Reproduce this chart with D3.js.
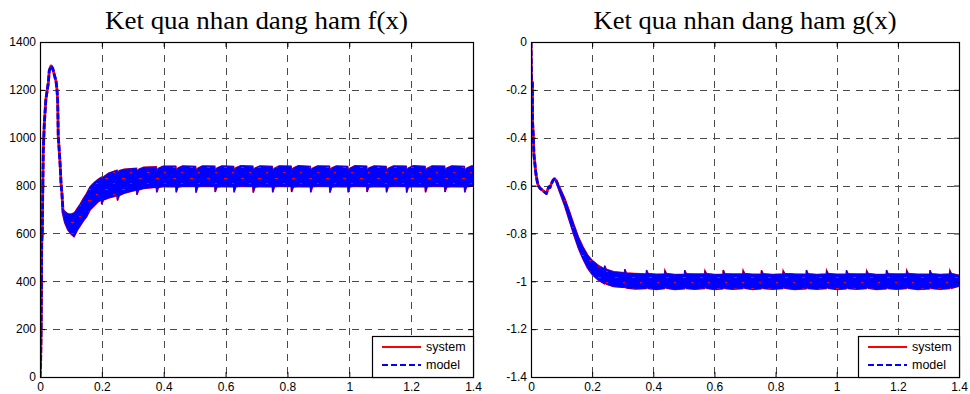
<!DOCTYPE html>
<html>
<head>
<meta charset="utf-8">
<script src="https://cdn.jsdelivr.net/npm/d3@7/dist/d3.min.js"></script>
<style>
  body { margin: 0; background: #fff; }
  svg text { font-family: "Liberation Sans", Arial, sans-serif; }
  .title { font-family: "Liberation Serif", "Times New Roman", serif; font-size: 25px; }
</style>
</head>
<body>
<div id="chart"></div>
<script>
// -------------------------------------------------------------------------
// Data

const xTicks = [0, 0.2, 0.4, 0.6, 0.8, 1, 1.2, 1.4];
const fTicks = [0, 200, 400, 600, 800, 1000, 1200, 1400];
const gTicks = [0, -0.2, -0.4, -0.6, -0.8, -1, -1.2, -1.4];
const seriesNames = ['system', 'model'];

// f(x): single trace at start
const fLineT = [0, 0.002, 0.004, 0.0055, 0.0075, 0.0087, 0.0107, 0.014, 0.019, 0.027, 0.030, 0.0355,
  0.041, 0.046, 0.052, 0.055, 0.057, 0.058, 0.059, 0.062, 0.065, 0.068, 0.071, 0.074];
const fLineV = [0, 60, 230, 560, 610, 760, 950, 1060, 1160, 1230, 1280, 1300,
  1290, 1265, 1235, 1200, 1160, 1090, 1005, 950, 890, 810, 765, 700];

// f(x): oscillation band (upper / lower envelope)
const fBandT = [0.072, 0.080, 0.090, 0.100, 0.110, 0.115, 0.120, 0.130, 0.140, 0.150, 0.162, 0.175, 0.188,
  0.198, 0.1995, 0.205, 0.222,
  0.249, 0.2505, 0.256, 0.272,
  0.312, 0.3135, 0.319, 0.335,
  0.376, 0.3775, 0.383, 0.398,
  0.439, 0.4405, 0.446, 0.461,
  0.503, 0.5045, 0.510, 0.525,
  0.565, 0.5665, 0.572, 0.588,
  0.626, 0.6275, 0.633, 0.649,
  0.688, 0.6895, 0.695, 0.711,
  0.751, 0.7525, 0.758, 0.773,
  0.812, 0.8135, 0.819, 0.835,
  0.874, 0.8755, 0.881, 0.897,
  0.936, 0.9375, 0.943, 0.958,
  0.995, 0.9965, 1.002, 1.018,
  1.056, 1.0575, 1.063, 1.080,
  1.119, 1.1205, 1.126, 1.143,
  1.184, 1.1855, 1.191, 1.207,
  1.245, 1.2465, 1.252, 1.268,
  1.308, 1.3095, 1.315, 1.331,
  1.372, 1.3735, 1.379, 1.395, 1.400];
const fBandHi = [705, 692, 682, 680, 685, 693, 703, 722, 745, 765, 795, 812, 826,
  834, 822, 836, 852,
  864, 850, 862, 868,
  872, 858, 868, 876,
  878, 862, 872, 881,
  881, 863, 873, 882,
  880, 862, 872, 882,
  881, 862, 873, 882,
  880, 862, 874, 883,
  881, 863, 873, 882,
  880, 861, 872, 882,
  881, 862, 873, 883,
  880, 862, 872, 882,
  881, 863, 873, 882,
  880, 862, 872, 883,
  881, 862, 873, 882,
  880, 861, 872, 882,
  881, 862, 873, 883,
  880, 862, 872, 882,
  881, 863, 873, 882,
  880, 862, 872, 882, 882];
const fBandLo = [690, 645, 615, 598, 586, 598, 612, 632, 652, 668, 698, 715, 732,
  740, 722, 740, 748,
  758, 738, 758, 768,
  782, 762, 782, 788,
  793, 772, 792, 796,
  795, 772, 794, 796,
  796, 771, 795, 797,
  796, 773, 794, 796,
  795, 772, 795, 797,
  796, 771, 794, 796,
  795, 772, 795, 797,
  796, 773, 794, 796,
  795, 772, 795, 797,
  796, 771, 794, 796,
  795, 772, 795, 797,
  796, 773, 794, 796,
  795, 772, 795, 797,
  796, 771, 794, 796,
  795, 772, 795, 797,
  796, 773, 794, 796,
  795, 772, 795, 797, 800];

// g(x): single trace at start
const gLineT = [0, 0.0015, 0.003, 0.0045, 0.005, 0.0075, 0.0095, 0.012, 0.016, 0.020, 0.023, 0.030,
  0.040, 0.050, 0.054, 0.058, 0.062, 0.066, 0.072, 0.077, 0.082, 0.088];
const gLineV = [0, -0.16, -0.165, -0.17, -0.33, -0.39, -0.47, -0.50, -0.55, -0.58, -0.598, -0.612,
  -0.622, -0.633, -0.620, -0.606, -0.608, -0.594, -0.578, -0.572, -0.578, -0.598];

// g(x): oscillation band
const gBandT = [0.085, 0.095, 0.110, 0.125, 0.140, 0.155, 0.170, 0.185, 0.200, 0.220,
  0.240, 0.241, 0.246, 0.270,
  0.306, 0.307, 0.312, 0.340,
  0.377, 0.378, 0.383, 0.410,
  0.437, 0.438, 0.443, 0.470,
  0.502, 0.503, 0.508, 0.535,
  0.568, 0.569, 0.574, 0.600,
  0.628, 0.629, 0.634, 0.660,
  0.693, 0.694, 0.699, 0.725,
  0.753, 0.754, 0.759, 0.790,
  0.824, 0.825, 0.830, 0.862,
  0.900, 0.901, 0.906, 0.935,
  0.966, 0.967, 0.972, 1.000,
  1.031, 1.032, 1.037, 1.065,
  1.097, 1.098, 1.103, 1.130,
  1.162, 1.163, 1.168, 1.195,
  1.228, 1.229, 1.234, 1.265,
  1.304, 1.305, 1.310, 1.338,
  1.369, 1.370, 1.375, 1.400];
const gBandHi = [-0.585, -0.610, -0.652, -0.705, -0.762, -0.815, -0.856, -0.890, -0.913, -0.934,
  -0.948, -0.935, -0.950, -0.960,
  -0.965, -0.950, -0.966, -0.968,
  -0.970, -0.953, -0.968, -0.971,
  -0.970, -0.955, -0.968, -0.972,
  -0.971, -0.954, -0.969, -0.970,
  -0.970, -0.956, -0.968, -0.972,
  -0.971, -0.953, -0.969, -0.970,
  -0.970, -0.955, -0.968, -0.971,
  -0.971, -0.954, -0.969, -0.972,
  -0.970, -0.956, -0.968, -0.970,
  -0.971, -0.953, -0.969, -0.972,
  -0.970, -0.955, -0.968, -0.971,
  -0.971, -0.954, -0.969, -0.970,
  -0.970, -0.956, -0.968, -0.972,
  -0.971, -0.953, -0.969, -0.970,
  -0.970, -0.955, -0.968, -0.971,
  -0.971, -0.954, -0.969, -0.972,
  -0.970, -0.955, -0.968, -0.975];
const gBandLo = [-0.597, -0.632, -0.684, -0.745, -0.806, -0.862, -0.907, -0.945, -0.972, -0.995,
  -1.010, -1.006, -1.012, -1.022,
  -1.026, -1.020, -1.028, -1.032,
  -1.030, -1.022, -1.030, -1.034,
  -1.030, -1.021, -1.029, -1.034,
  -1.031, -1.022, -1.030, -1.033,
  -1.030, -1.020, -1.029, -1.034,
  -1.031, -1.022, -1.030, -1.033,
  -1.030, -1.021, -1.029, -1.034,
  -1.031, -1.022, -1.030, -1.033,
  -1.030, -1.020, -1.029, -1.034,
  -1.031, -1.022, -1.030, -1.033,
  -1.030, -1.021, -1.029, -1.034,
  -1.031, -1.022, -1.030, -1.033,
  -1.030, -1.020, -1.029, -1.034,
  -1.031, -1.022, -1.030, -1.033,
  -1.030, -1.021, -1.029, -1.034,
  -1.031, -1.022, -1.030, -1.033,
  -1.030, -1.021, -1.029, -1.020];

// -------------------------------------------------------------------------
// Drawing

const width = 970;
const height = 394;
const sysColor = '#ff0000';
const modelColor = '#0000ff';

const svg = d3.select('#chart')
  .append('svg')
  .attr('width', width)
  .attr('height', height);

const defs = svg.append('defs');

// blue dashed trace over red trace: red shows through in the gaps
const pat = defs.append('pattern')
  .attr('id', 'band-fill')
  .attr('patternUnits', 'userSpaceOnUse')
  .attr('width', 17)
  .attr('height', 11);
pat.append('rect').attr('width', 17).attr('height', 11).attr('fill', modelColor);
pat.append('rect').attr('x', 3).attr('y', 2).attr('width', 3).attr('height', 1).attr('fill', sysColor);
pat.append('rect').attr('x', 11).attr('y', 7).attr('width', 2).attr('height', 1).attr('fill', sysColor);

const fmt = (d) => String(Math.round(d * 10) / 10);

function drawPanel(p) {
  const x = d3.scaleLinear().domain([0, 1.4]).range([p.left, p.right]);
  const y = d3.scaleLinear().domain(p.yDomain).range([p.bottom, p.top]);

  const g = svg.append('g');

  defs.append('clipPath')
    .attr('id', `clip-${p.id}`)
    .append('rect')
    .attr('x', p.left)
    .attr('y', p.top)
    .attr('width', p.right - p.left)
    .attr('height', p.bottom - p.top);

  // grid
  const grid = g.append('g')
    .attr('stroke', '#4a4a4a')
    .attr('stroke-width', 1)
    .attr('stroke-dasharray', '7,6');
  grid.selectAll('.vgrid')
    .data(xTicks.slice(1, -1))
    .enter()
    .append('line')
    .attr('x1', (d) => Math.round(x(d)) + 0.5)
    .attr('x2', (d) => Math.round(x(d)) + 0.5)
    .attr('y1', p.top)
    .attr('y2', p.bottom);
  grid.selectAll('.hgrid')
    .data(p.yTicks.slice(1, -1))
    .enter()
    .append('line')
    .attr('x1', p.left)
    .attr('x2', p.right)
    .attr('y1', (d) => Math.round(y(d)) + 0.5)
    .attr('y2', (d) => Math.round(y(d)) + 0.5);

  const plot = g.append('g').attr('clip-path', `url(#clip-${p.id})`);

  const linePts = p.lineT.map((t, i) => [t, p.lineV[i]]);
  const bandPts = p.bandT.map((t, i) => [t, p.bandHi[i], p.bandLo[i]]);

  const line = d3.line()
    .x((d) => x(d[0]))
    .y((d) => y(d[1]));
  const area = d3.area()
    .x((d) => x(d[0]))
    .y0((d) => y(d[2]))
    .y1((d) => y(d[1]));

  // system (red, solid)
  plot.append('path')
    .attr('d', line(linePts))
    .attr('fill', 'none')
    .attr('stroke', sysColor)
    .attr('stroke-width', 2.8)
    .attr('stroke-linejoin', 'round');
  plot.append('path')
    .attr('d', area(bandPts))
    .attr('fill', sysColor)
    .attr('stroke', sysColor)
    .attr('stroke-width', 1.6);

  // model (blue, dashed)
  plot.append('path')
    .attr('d', area(bandPts))
    .attr('fill', 'url(#band-fill)')
    .attr('stroke', modelColor)
    .attr('stroke-width', 0.8);
  plot.append('path')
    .attr('d', line(linePts))
    .attr('fill', 'none')
    .attr('stroke', modelColor)
    .attr('stroke-width', 2.8)
    .attr('stroke-dasharray', '6,2')
    .attr('stroke-linejoin', 'round');

  // axes, ticks pointing inward
  const styleAxis = (sel) => {
    sel.select('.domain').remove();
    sel.selectAll('.tick line').attr('stroke', '#000');
    sel.selectAll('text')
      .attr('fill', '#000')
      .attr('font-size', 12)
      .attr('font-family', '"Liberation Sans", Arial, sans-serif');
  };

  g.append('g')
    .attr('transform', `translate(0,${p.bottom})`)
    .call(d3.axisBottom(x).tickValues(xTicks).tickFormat(fmt).tickSizeInner(-5).tickSizeOuter(0).tickPadding(5.5))
    .call(styleAxis);
  g.append('g')
    .attr('transform', `translate(0,${p.top})`)
    .call(d3.axisTop(x).tickValues(xTicks).tickFormat('').tickSizeInner(-5).tickSizeOuter(0))
    .call(styleAxis);
  g.append('g')
    .attr('transform', `translate(${p.left},0)`)
    .call(d3.axisLeft(y).tickValues(p.yTicks).tickFormat(fmt).tickSizeInner(-5).tickSizeOuter(0).tickPadding(4))
    .call(styleAxis);
  g.append('g')
    .attr('transform', `translate(${p.right},0)`)
    .call(d3.axisRight(y).tickValues(p.yTicks).tickFormat('').tickSizeInner(-5).tickSizeOuter(0))
    .call(styleAxis);

  // box
  g.append('rect')
    .attr('x', p.left + 0.5)
    .attr('y', p.top + 0.5)
    .attr('width', p.right - p.left)
    .attr('height', p.bottom - p.top)
    .attr('fill', 'none')
    .attr('stroke', '#000')
    .attr('stroke-width', 1.2);

  // title
  g.append('text')
    .attr('class', 'title')
    .attr('x', (p.left + p.right) / 2)
    .attr('y', 29)
    .attr('text-anchor', 'middle')
    .attr('textLength', 303)
    .attr('lengthAdjust', 'spacingAndGlyphs')
    .text(p.title);

  // legend
  const lx = p.right - 101;
  const ly = p.bottom - 41;
  const legend = g.append('g').attr('transform', `translate(${lx},${ly})`);
  legend.append('rect')
    .attr('x', 0.5)
    .attr('y', 0.5)
    .attr('width', 101)
    .attr('height', 41)
    .attr('fill', '#fff')
    .attr('stroke', '#000')
    .attr('stroke-width', 1.2);
  const items = legend.selectAll('.item')
    .data(seriesNames)
    .enter()
    .append('g')
    .attr('transform', (d, i) => `translate(0,${11 + i * 18})`);
  items.append('line')
    .attr('x1', 10)
    .attr('x2', 49)
    .attr('stroke', (d, i) => (i === 0 ? sysColor : modelColor))
    .attr('stroke-width', 2)
    .attr('stroke-dasharray', (d, i) => (i === 0 ? null : '6,3'));
  items.append('text')
    .attr('x', 54)
    .attr('dy', '0.35em')
    .attr('font-size', 12.5)
    .text((d) => d);
}

drawPanel({
  id: 'f', left: 40, right: 473, top: 42, bottom: 377,
  yDomain: [0, 1400], yTicks: fTicks,
  lineT: fLineT, lineV: fLineV,
  bandT: fBandT, bandHi: fBandHi, bandLo: fBandLo,
  title: 'Ket qua nhan dang ham f(x)',
});

drawPanel({
  id: 'g', left: 531, right: 959, top: 42, bottom: 377,
  yDomain: [-1.4, 0], yTicks: gTicks,
  lineT: gLineT, lineV: gLineV,
  bandT: gBandT, bandHi: gBandHi, bandLo: gBandLo,
  title: 'Ket qua nhan dang ham g(x)',
});
</script>
</body>
</html>
